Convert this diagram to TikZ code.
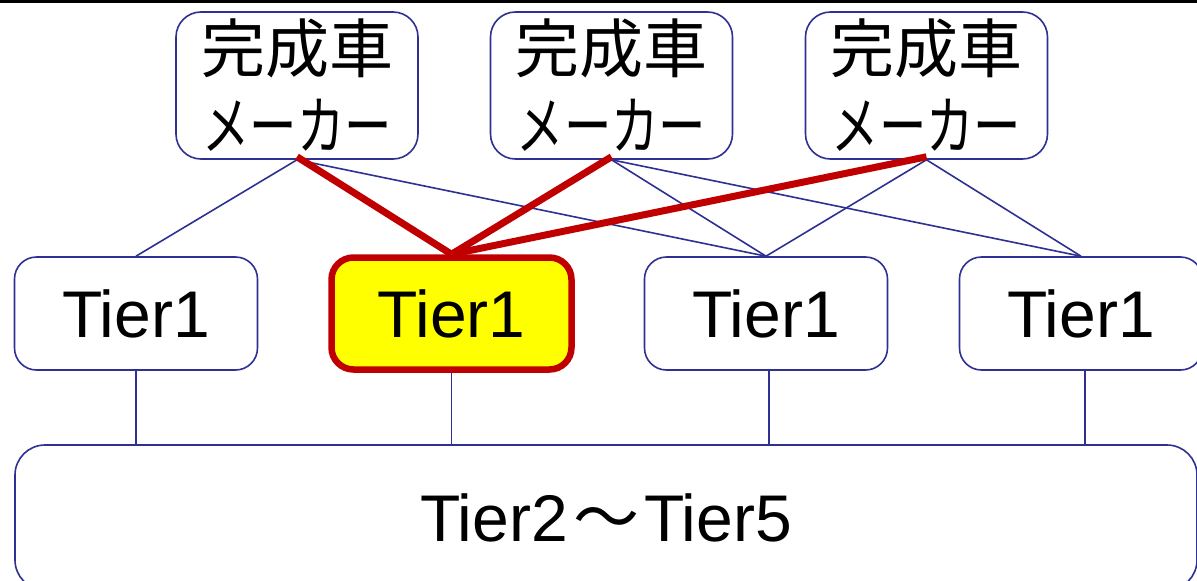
\documentclass[tikz,border=0pt]{standalone}
\usepackage{fontspec}
\setmainfont{Liberation Sans}
\newfontfamily\jp{Noto Sans CJK JP}
\definecolor{navy}{RGB}{46,49,146}
\definecolor{darkred}{RGB}{192,0,0}
\definecolor{hly}{RGB}{255,255,0}
\begin{document}
\begin{tikzpicture}[x=1pt,y=-1pt,
  box/.style={draw=navy,line width=1.6pt,rounded corners=22pt,fill=white,inner sep=0pt,text=black},
  maker/.style={box,minimum width=242pt,minimum height=147pt,rounded corners=25pt,align=center,font=\jp\fontsize{64}{77}\selectfont},
  tier/.style={box,minimum width=243pt,minimum height=113pt,font=\fontsize{66}{70}\selectfont},
  thin/.style={draw=navy,line width=1.6pt},
  thick/.style={draw=darkred,line width=7pt},
  hl/.style={tier,draw=darkred,line width=6.5pt,fill=hly,minimum width=240pt,minimum height=112pt}]
\useasboundingbox (0,0) rectangle (1197,581);
\fill[white] (0,0) rectangle (1197,581);
\draw[line width=3pt,black] (0,1.5) -- (1197,1.5);
% makers
\node[maker] (m1) at (297,85.5) {完成車\\\scalebox{0.74}[1]{メーカー}};
\node[maker] (m2) at (611.5,85.5) {完成車\\\scalebox{0.74}[1]{メーカー}};
\node[maker] (m3) at (926.5,85.5) {完成車\\\scalebox{0.74}[1]{メーカー}};
% tier1
\node[tier] (a) at (136,313.5) {Tier1};
\node[hl] (b) at (451.5,313.5) {Tier1};
\node[tier] (c) at (766,313.5) {Tier1};
\node[tier] (d) at (1081,313.5) {Tier1};
% bottom
\node[box,minimum width=1182pt,minimum height=145pt,rounded corners=30pt,font=\fontsize{66}{70}\selectfont] (bot) at (606,517.5) {Tier2\hspace{5pt}{\jp 〜}\hspace{5pt}Tier5};
% connectors
\draw[thin] (m1.south) -- (a.north);
\draw[thin] (m1.south) -- (c.north);
\draw[thin] (m2.south) -- (c.north);
\draw[thin] (m2.south) -- (d.north);
\draw[thin] (m3.south) -- (c.north);
\draw[thin] (m3.south) -- (d.north);
\draw[thick] ([yshift=3pt]m1.south) -- (b.north);
\draw[thick] ([yshift=3pt]m2.south) -- (b.north);
\draw[thick] ([yshift=3pt]m3.south) -- (b.north);
\draw[thin] (a.south) -- (a.south |- bot.north);
\draw[thin] (b.south) -- (b.south |- bot.north);
\draw[thin] ([xshift=3pt]c.south) -- ([xshift=3pt]c.south |- bot.north);
\draw[thin] ([xshift=4pt]d.south) -- ([xshift=4pt]d.south |- bot.north);
\end{tikzpicture}
\end{document}
